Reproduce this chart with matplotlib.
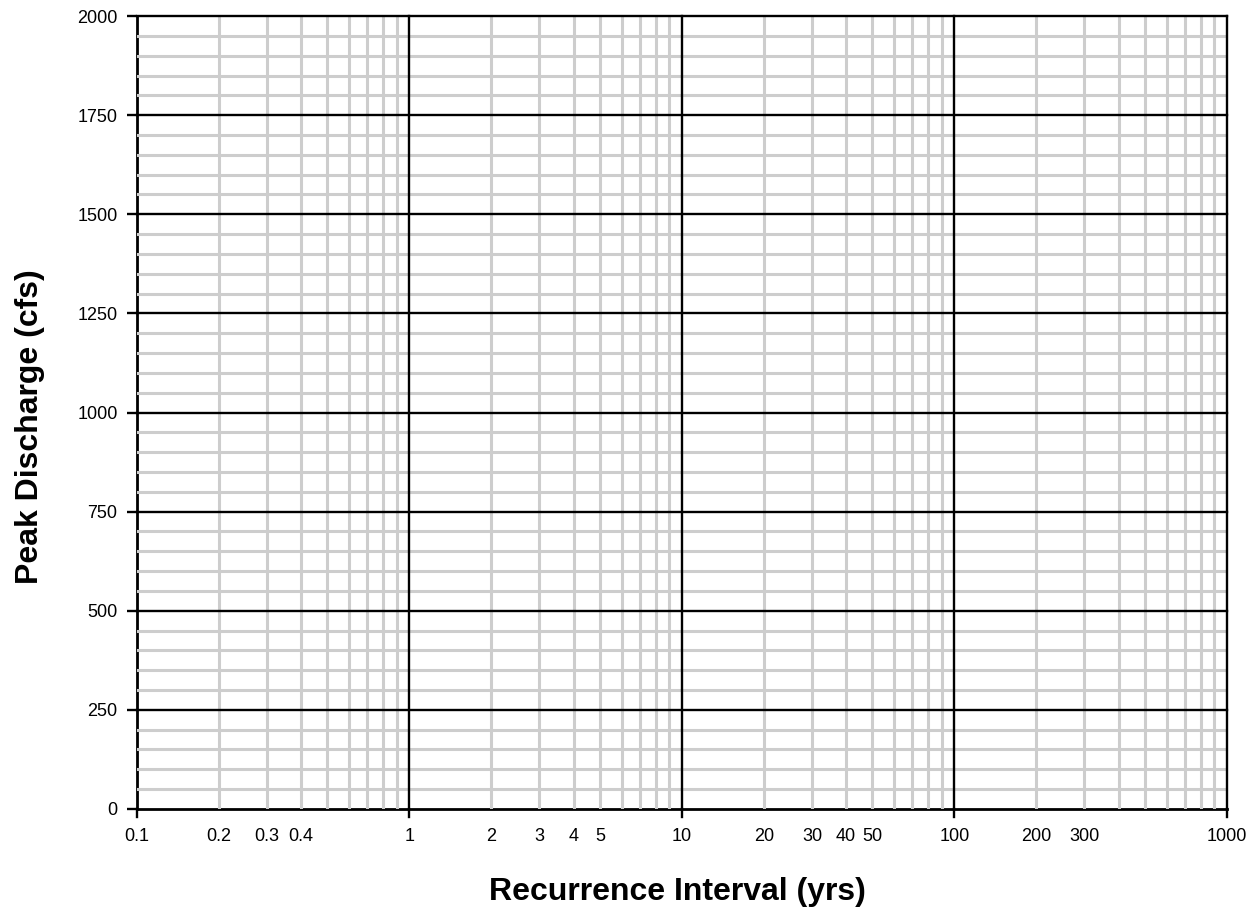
import numpy as np
import matplotlib.pyplot as plt
from matplotlib.ticker import FixedLocator, NullFormatter

plt.rcParams['font.family'] = ['Liberation Sans', 'DejaVu Sans']

x_min, x_max = 0.1, 1000
y_min, y_max = 0, 2000
y_major = np.arange(0, 2001, 250)
y_minor = np.arange(0, 2001, 50)
x_major = [0.1, 1, 10, 100, 1000]
x_minor = [m * d for d in [0.1, 1, 10, 100] for m in range(2, 10)]
x_labels = [0.1, 0.2, 0.3, 0.4, 1, 2, 3, 4, 5, 10, 20, 30, 40, 50,
            100, 200, 300, 1000]

fig = plt.figure(figsize=(12.52, 9.11), dpi=100)
ax = fig.add_axes([0.1094, 0.112, 0.8706, 0.8704])
ax.set_xscale('log')
ax.set_xlim(x_min, x_max)
ax.set_ylim(y_min, y_max)
for s in ax.spines.values():
    s.set_visible(False)

# bottom and left edges sit under the grey grid
ax.axhline(0, color='black', lw=2, zorder=1, clip_on=False)
ax.axvline(0.1, color='black', lw=2, zorder=1, clip_on=False)

grey = '#cdcdcd'
for y in y_minor:
    if y % 250:
        ax.axhline(y, color=grey, lw=2.2, zorder=2)
for x in x_minor:
    ax.axvline(x, color=grey, lw=2.2, zorder=2)

for y in y_major[1:]:
    ax.axhline(y, color='black', lw=1.7, zorder=3, clip_on=False)
for x in x_major[1:]:
    ax.axvline(x, color='black', lw=1.7, zorder=3, clip_on=False)

ax.set_yticks(y_major)
ax.set_yticklabels([str(v) for v in y_major])
ax.tick_params(axis='y', length=7, width=1.7, pad=7, labelsize=13)

ax.xaxis.set_major_locator(FixedLocator(x_labels))
ax.xaxis.set_minor_locator(FixedLocator([]))
ax.xaxis.set_minor_formatter(NullFormatter())
ax.set_xticklabels([f'{v:g}' for v in x_labels])
ax.tick_params(axis='x', length=0, pad=14, labelsize=13)
for x in x_major:
    ax.plot([x, x], [0, -20], color='black', lw=1.7, clip_on=False, zorder=3)

fig.text(30 / 1252, 1 - 427 / 911, 'Peak Discharge (cfs)', rotation=90,
         ha='center', va='center', fontsize=23, fontweight='bold')
fig.text(677 / 1252, 1 - 892 / 911, 'Recurrence Interval (yrs)',
         ha='center', va='center', fontsize=23, fontweight='bold')

fig.savefig('out.png', dpi=100)
